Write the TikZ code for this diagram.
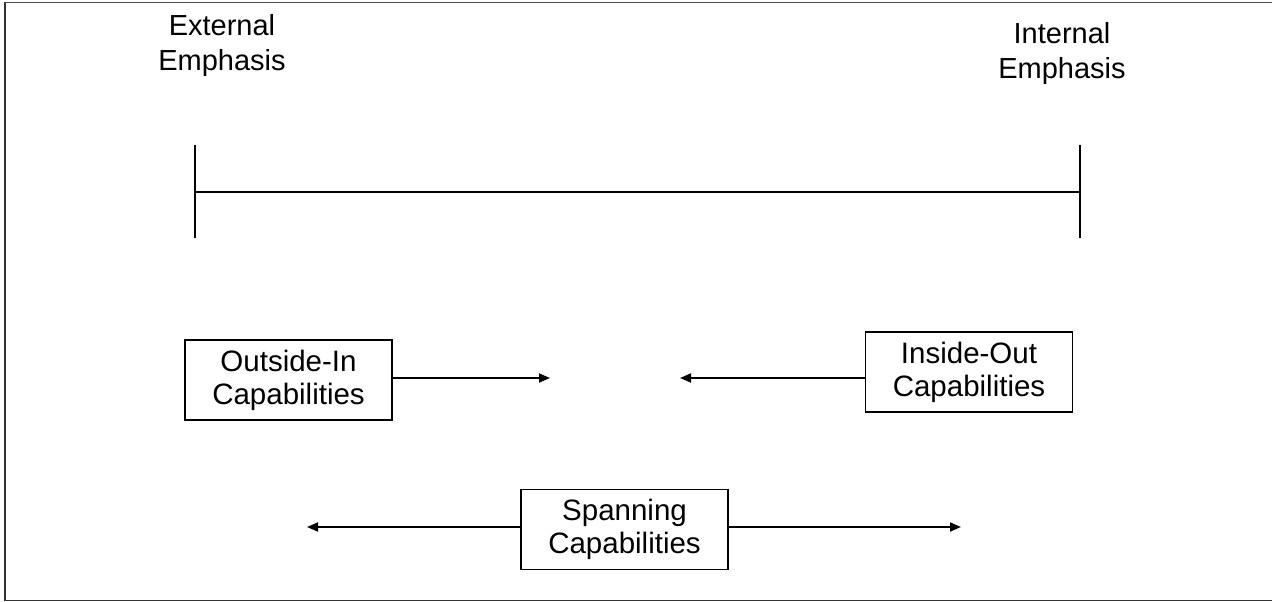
\documentclass[tikz,border=0pt]{standalone}
\usepackage{fontspec}
\setmainfont{Liberation Sans}
\usetikzlibrary{arrows.meta}
\begin{document}
\begin{tikzpicture}[x=1pt,y=-1pt,
  headtext/.style={align=center,font=\fontsize{29}{35}\selectfont},
  capbox/.style={draw,line width=1.8pt,align=center,inner sep=0pt,
    minimum width=207pt,minimum height=80pt,font=\fontsize{29.5}{33}\selectfont},
  scaleline/.style={line width=2.8pt},
  arr/.style={line width=1.8pt,-{Triangle[length=11pt,width=9pt]}}]
\useasboundingbox (0,0) rectangle (1272,602);
\fill[white] (0,0) rectangle (1272,602);
\draw[line width=1.6pt,black!80] (5,2.5) -- (5,600.5) -- (1290,600.5);
\draw[line width=1.6pt,black!70] (5,2.5) -- (1290,2.5);
% headings
\node[headtext] (ext) at (222,46) {External\\Emphasis};
\node[headtext] (int) at (1062,54) {Internal\\Emphasis};
% scale
\coordinate (L) at (195,192);
\coordinate (R) at (1080,192);
\coordinate (Lt) at (195,145);
\coordinate (Lb) at (195,238);
\coordinate (Rt) at (1080,145);
\coordinate (Rb) at (1080,238);
\draw[scaleline] (L) -- (R);
\draw[scaleline] (Lt) -- (Lb);
\draw[scaleline] (Rt) -- (Rb);
% boxes
\node[capbox] (oi) at (288.5,380) {Outside-In\\Capabilities};
\node[capbox] (io) at (969,372) {Inside-Out\\Capabilities};
\node[capbox] (sp) at (624.5,529.5) {Spanning\\Capabilities};
% arrows
\coordinate (oiT) at (550,378);
\coordinate (ioT) at (680,378);
\coordinate (spL) at (307,527);
\coordinate (spR) at (961,527);
\draw[arr] (oi.east |- oiT) -- (oiT);
\draw[arr] (io.west |- ioT) -- (ioT);
\draw[arr] (sp.west |- spL) -- (spL);
\draw[arr] (sp.east |- spR) -- (spR);
\end{tikzpicture}
\end{document}
